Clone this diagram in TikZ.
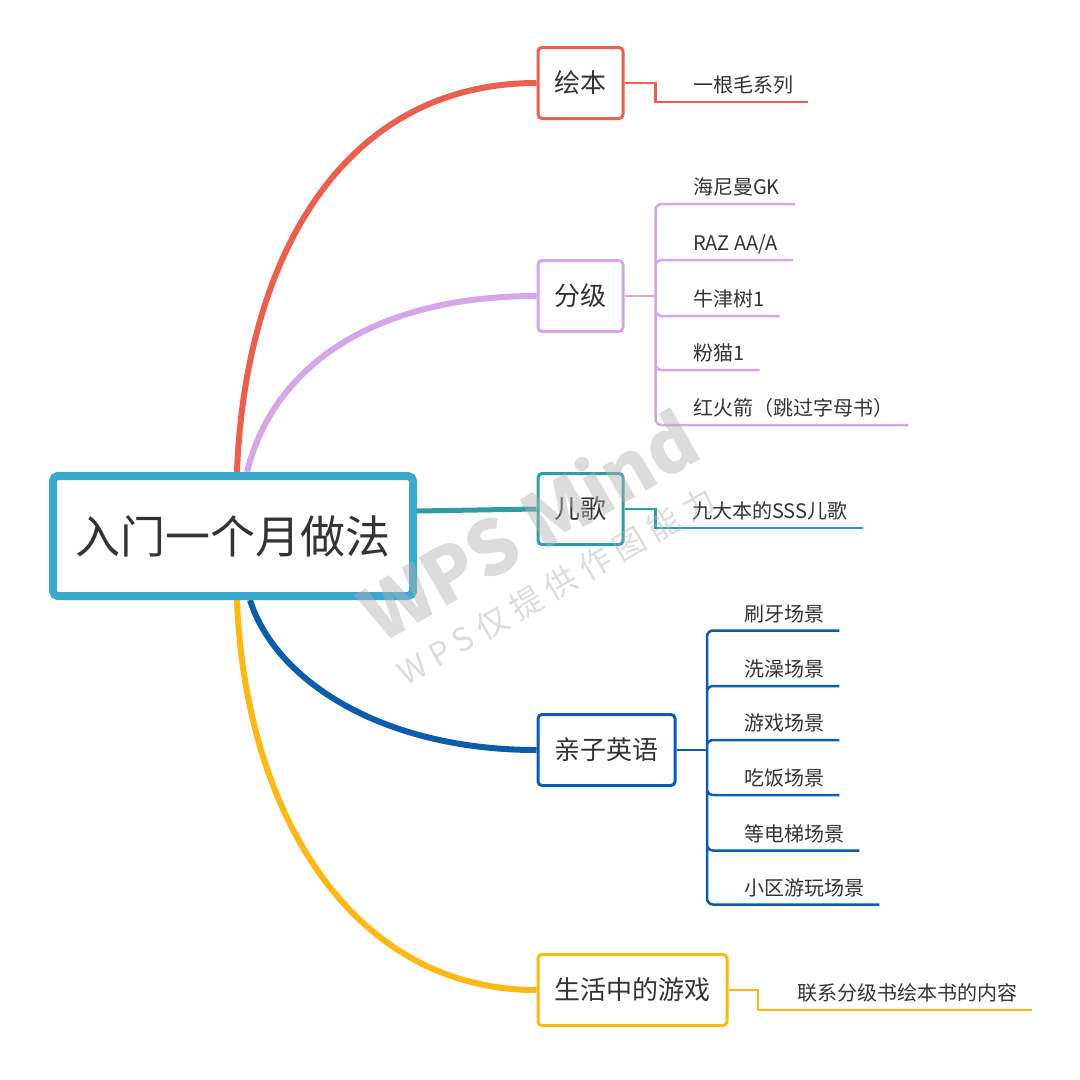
\documentclass[tikz,border=0pt]{standalone}
\usepackage{fontspec}
\setmainfont{Noto Sans CJK SC}
\newfontfamily\wmfont[LetterSpace=24]{Noto Sans CJK SC}
\usepackage{tikz}
\usetikzlibrary{backgrounds}
\definecolor{rootblue}{HTML}{3AA8CF}
\definecolor{red500}{HTML}{E9604F}
\definecolor{purple300}{HTML}{D5A6E8}
\definecolor{teal500}{HTML}{2E9CA6}
\definecolor{blue800}{HTML}{0B5DAB}
\definecolor{amber500}{HTML}{FCB814}
\definecolor{gray800}{HTML}{333333}
\tikzstyle{topic}=[draw, line width=3pt, rounded corners=4pt, fill=white, text=gray800, font=\fontsize{26}{30}\selectfont, minimum height=71pt, inner xsep=16.5pt, anchor=west]
\tikzstyle{leaf}=[text=gray800, font=\fontsize{20}{24}\selectfont, inner xsep=15pt, inner ysep=5pt, text depth=4pt, anchor=south west]
\tikzstyle{twig}=[line width=2.5pt]
\tikzstyle{limb}=[line width=6pt]

\begin{document}
\begin{tikzpicture}[x=1pt, y=-1pt]
	\useasboundingbox (0,0) rectangle (1080,1080);
	\node[draw=rootblue, line width=8pt, rounded corners=5pt, fill=white, minimum width=360pt, minimum height=120pt, text=gray800, font=\fontsize{45}{54}\selectfont, anchor=west] (root) at (49,536) {入门一个月做法};
	\node[topic, draw=red500] (b1) at (536.5,83) {绘本};
	\node[topic, draw=purple300] (b2) at (536.5,296) {分级};
	\node[topic, draw=teal500] (b3) at (536.5,509) {儿歌};
	\node[topic, draw=blue800] (b4) at (536.5,750) {亲子英语};
	\node[topic, draw=amber500] (b5) at (536.5,990) {生活中的游戏};
	\node[leaf] (l11) at (678,102) {一根毛系列};
	\node[leaf] (l21) at (678,204) {海尼曼GK};
	\node[leaf] (l22) at (678,260) {RAZ AA/A};
	\node[leaf] (l23) at (678,316) {牛津树1};
	\node[leaf] (l24) at (678,370) {粉猫1};
	\node[leaf] (l25) at (678,425) {红火箭（跳过字母书）};
	\node[leaf] (l31) at (677,528) {九大本的SSS儿歌};
	\node[leaf] (l41) at (729,630.5) {刷牙场景};
	\node[leaf] (l42) at (729,686) {洗澡场景};
	\node[leaf] (l43) at (729,740) {游戏场景};
	\node[leaf] (l44) at (729,795) {吃饭场景};
	\node[leaf] (l45) at (729,850.5) {等电梯场景};
	\node[leaf] (l46) at (729,904.5) {小区游玩场景};
	\node[leaf] (l51) at (782,1010) {联系分级书绘本书的内容};
	\begin{scope}[on background layer]
		\fill[white] (0,0) rectangle (1080,1080);
		\draw[limb, red500] ([xshift=188pt]root.north west) .. controls +(8,-212) and +(-195,0) .. (b1.west);
		\draw[limb, purple300] ([xshift=198pt]root.north west) .. controls +(28,-112) and +(-155,0) .. (b2.west);
		\draw[limb, teal500, line width=5pt] ([yshift=25pt]root.east) -- (b3.west);
		\draw[limb, blue800] ([xshift=201pt]root.south west) .. controls +(25,80) and +(-155,0) .. (b4.west);
		\draw[limb, amber500] ([xshift=188pt]root.south west) .. controls +(8,212) and +(-185,0) .. (b5.west);
	\end{scope}
	\draw[twig, red500] (b1.east) -- ++(31,0) |- (l11.south east);
	\draw[twig, purple300] (b2.east) -- ++(31,0) coordinate (j2);
	\path[draw=purple300, twig, rounded corners=6pt] (j2) |- (l21.south east) (j2) |- (l22.south east) (j2) |- (l23.south east) (j2) |- (l24.south east) (j2) |- (l25.south east);
	\draw[twig, teal500] (b3.east) -- ++(31,0) |- (l31.south east);
	\draw[twig, blue800] (b4.east) -- ++(30.5,0) coordinate (j4);
	\path[draw=blue800, twig, rounded corners=6pt] (j4) |- (l41.south east) (j4) |- (l42.south east) (j4) |- (l43.south east) (j4) |- (l44.south east) (j4) |- (l45.south east) (j4) |- (l46.south east);
	\draw[twig, amber500] (b5.east) -- ++(29.5,0) |- (l51.south east);
	\node[rotate=30, text=gray!60, opacity=0.45, font=\fontsize{75}{80}\selectfont\bfseries] (wm1) at (528,524) {WPS Mind};
	\node[rotate=30, text=gray!60, opacity=0.45, font=\wmfont\fontsize{32}{38}\selectfont] (wm2) at (556,586) {WPS仅提供作图能力};
\end{tikzpicture}
\end{document}
